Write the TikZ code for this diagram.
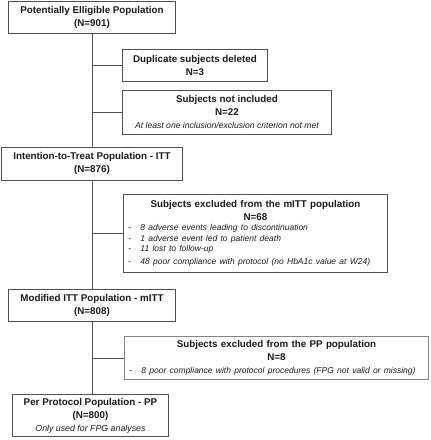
\documentclass[tikz,border=0pt]{standalone}
\usepackage{fontspec}
\setmainfont{Liberation Sans}
\definecolor{linegray}{HTML}{505050}
\definecolor{textgray}{HTML}{1A1A1A}
\newcommand{\exclitem}[1]{\par\noindent\makebox[12pt][l]{-}\textit{#1}}

\begin{document}
\begin{tikzpicture}[x=1pt,y=-1pt,
	box/.style={draw=linegray, line width=0.9pt, anchor=north west, align=center, inner sep=0pt, text=textgray, font=\bfseries\fontsize{9.8}{13}\selectfont},
	listbox/.style={box, align=left, inner xsep=5pt},
	link/.style={draw=linegray, line width=0.9pt}]
	\useasboundingbox (0,0) rectangle (431,440);
	% populations
	\node[box, minimum width=167pt, minimum height=32pt] (pop) at (8,1) {Potentially Elligible Population\\(N=901)};
	\node[box, minimum width=181pt, minimum height=33pt] (itt) at (1,147) {Intention-to-Treat Population - ITT\\(N=876)};
	\node[box, minimum width=167pt, minimum height=32pt] (mitt) at (8,289) {Modified ITT Population - mITT\\(N=808)};
	\node[box, minimum width=156pt, minimum height=42pt] (pp) at (12,394) {Per Protocol Population - PP\\(N=800)\\{\mdseries\itshape\fontsize{8.8}{11}\selectfont Only used for FPG analyses}};
	% exclusions
	\node[box, minimum width=145pt, minimum height=32pt] (dup) at (122,49) {Duplicate subjects deleted\\N=3};
	\node[box, minimum width=209pt, minimum height=44pt] (notinc) at (122,90) {Subjects not included\\N=22\\{\mdseries\itshape\fontsize{8.6}{11}\selectfont At least one inclusion/exclusion criterion not met}};
	\node[listbox, text width=254pt, minimum height=78pt] (mittout) at (123,194) {{\centering Subjects excluded from the mITT population\\N=68\par}
		\mdseries\fontsize{8.5}{10.5}\selectfont
		\exclitem{8 adverse events leading to discontinuation}
		\exclitem{1 adverse event led to patient death}
		\exclitem{11 lost to follow-up}
		\exclitem{48 poor compliance with protocol (no HbA1c value at W24)}};
	\node[listbox, draw=linegray!70, text width=294pt, minimum height=43pt] (ppout) at (124,336) {{\centering Subjects excluded from the PP population\\N=8\par}
		\mdseries\fontsize{8.5}{10.5}\selectfont
		\exclitem{8 poor compliance with protocol procedures (FPG not valid or missing)}};
	% flow
	\draw[link] (pop.south) -- (itt.north);
	\draw[link] (itt.south) -- (mitt.north);
	\draw[link] (mitt.south) -- (mitt.south |- pp.north);
	\draw[link] (dup.west) -- (dup.west -| pop.south);
	\draw[link] (notinc.west) -- (notinc.west -| pop.south);
	\draw[link] (mittout.west) -- (mittout.west -| itt.south);
	\draw[link] (ppout.west) -- (ppout.west -| mitt.south);
\end{tikzpicture}
\end{document}
